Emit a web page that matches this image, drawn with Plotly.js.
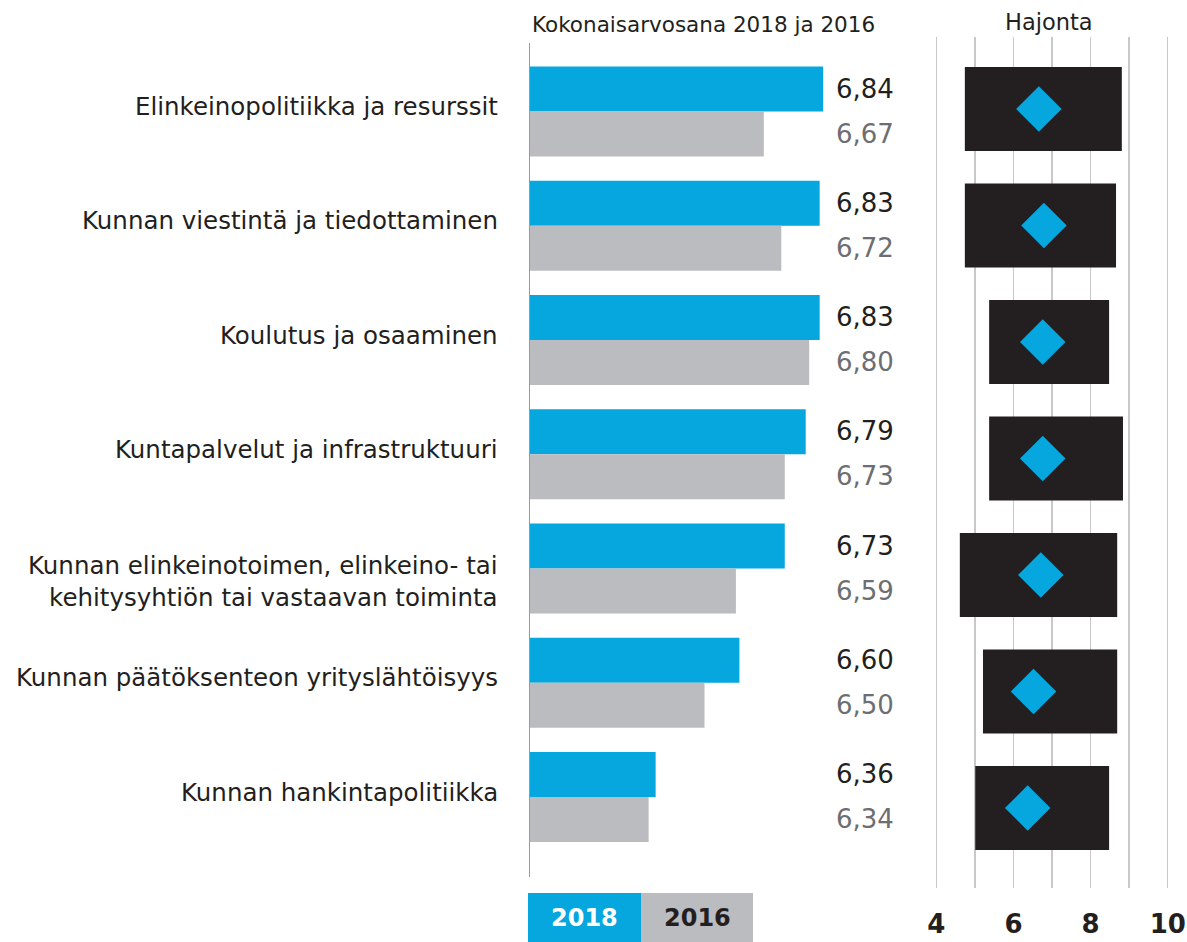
<!DOCTYPE html>
<html>
<head>
<meta charset="utf-8">
<script src="https://cdn.plot.ly/plotly-3.0.1.min.js"></script>
<style>
  html, body { margin: 0; padding: 0; background: #ffffff; }
  #chart { width: 1187px; height: 942px; }
</style>
</head>
<body>
<div id="chart"></div>
<script>
// ---- Data ----
const categories = [
  "Elinkeinopolitiikka ja resurssit",
  "Kunnan viestintä ja tiedottaminen",
  "Koulutus ja osaaminen",
  "Kuntapalvelut ja infrastruktuuri",
  "Kunnan elinkeinotoimen, elinkeino- tai<br>kehitysyhtiön tai vastaavan toiminta",
  "Kunnan päätöksenteon yrityslähtöisyys",
  "Kunnan hankintapolitiikka"
];
const values2018 = [6.84, 6.83, 6.83, 6.79, 6.73, 6.60, 6.36];
const values2016 = [6.67, 6.72, 6.80, 6.73, 6.59, 6.50, 6.34];
const spreadLow  = [4.74, 4.74, 5.37, 5.37, 4.61, 5.21, 5.01];
const spreadHigh = [8.81, 8.66, 8.48, 8.84, 8.69, 8.69, 8.48];
const spreadMean = [6.66, 6.79, 6.76, 6.76, 6.71, 6.52, 6.37];
const seriesNames = ["2018", "2016"];
const spreadTicks = [4, 5, 6, 7, 8, 9, 10];
const spreadTickText = ["4", "", "6", "", "8", "", "10"];

// ---- Style ----
const W = 1187, H = 942;
const BLUE = "#06a6de", GREY = "#bbbcc0", DARK = "#231f20", MIDGREY = "#6d6e71";
const FONT = "'DejaVu Sans', 'Open Sans', sans-serif";
const fx = px => px / W;
const fy = py => 1 - py / H;
const fmt = v => v.toFixed(2).replace(".", ",");
const diff = spreadHigh.map((h, i) => h - spreadLow[i]);

const traces = [
  {
    type: "bar", orientation: "h", name: seriesNames[0],
    y: categories, x: values2018,
    marker: { color: BLUE }, xaxis: "x", yaxis: "y", hoverinfo: "skip"
  },
  {
    type: "bar", orientation: "h", name: seriesNames[1],
    y: categories, x: values2016,
    marker: { color: GREY }, xaxis: "x", yaxis: "y", hoverinfo: "skip"
  },
  {
    type: "bar", orientation: "h", name: "Hajonta",
    y: categories, x: diff, base: spreadLow, width: 0.72,
    marker: { color: DARK }, xaxis: "x2", yaxis: "y2", hoverinfo: "skip"
  },
  {
    type: "scatter", mode: "markers", name: "Keskiarvo",
    y: categories, x: spreadMean,
    marker: { symbol: "diamond", size: 35, color: BLUE, line: { width: 0 } },
    xaxis: "x2", yaxis: "y2", hoverinfo: "skip"
  }
];

const annotations = [];
categories.forEach((c, i) => {
  const multiLine = c.indexOf("<br>") >= 0;
  annotations.push({
    xref: "paper", yref: "y", x: fx(500), y: c, yshift: multiLine ? -13 : 5,
    text: c, showarrow: false, xanchor: "right", yanchor: "middle", align: "right",
    font: { family: FONT, size: 24.5, color: DARK }
  });
  annotations.push({
    xref: "paper", yref: "y", x: fx(865), y: c, yshift: 23,
    text: fmt(values2018[i]), showarrow: false, xanchor: "center", yanchor: "middle",
    font: { family: FONT, size: 26, color: DARK }
  });
  annotations.push({
    xref: "paper", yref: "y", x: fx(865), y: c, yshift: -22,
    text: fmt(values2016[i]), showarrow: false, xanchor: "center", yanchor: "middle",
    font: { family: FONT, size: 26, color: MIDGREY }
  });
});
annotations.push({
  xref: "paper", yref: "paper", x: fx(530), y: fy(25), xanchor: "left", yanchor: "middle",
  text: "Kokonaisarvosana 2018 ja 2016", showarrow: false,
  font: { family: FONT, size: 21.5, color: DARK }
});
annotations.push({
  xref: "paper", yref: "paper", x: fx(1049), y: fy(22), xanchor: "center", yanchor: "middle",
  text: "Hajonta", showarrow: false,
  font: { family: FONT, size: 22.5, color: DARK }
});
annotations.push({
  xref: "paper", yref: "paper", x: fx(584.5), y: fy(918), xanchor: "center", yanchor: "middle",
  text: "<b>" + seriesNames[0] + "</b>", showarrow: false,
  font: { family: FONT, size: 24, color: "#ffffff" }
});
annotations.push({
  xref: "paper", yref: "paper", x: fx(697), y: fy(918), xanchor: "center", yanchor: "middle",
  text: "<b>" + seriesNames[1] + "</b>", showarrow: false,
  font: { family: FONT, size: 24, color: DARK }
});

const shapes = [
  { type: "rect", xref: "paper", yref: "paper", x0: fx(528), x1: fx(641), y0: fy(942), y1: fy(893),
    fillcolor: BLUE, line: { width: 0 }, layer: "below" },
  { type: "rect", xref: "paper", yref: "paper", x0: fx(641), x1: fx(753), y0: fy(942), y1: fy(893),
    fillcolor: GREY, line: { width: 0 }, layer: "below" }
];

// left panel: 6.0 at px 530, 349 px per unit
const leftX0 = 530, leftX1 = 880, pxPerUnit = 349;
// right panel: 4 at px 936.3, 38.57 px per unit
const r0 = 936.3, rUnit = 38.57;

const layout = {
  width: W, height: H,
  margin: { l: 0, r: 0, t: 0, b: 0 },
  paper_bgcolor: "#ffffff", plot_bgcolor: "rgba(0,0,0,0)",
  showlegend: false,
  barmode: "group", bargap: 0.212, bargroupgap: 0,
  font: { family: FONT, color: DARK },
  xaxis: {
    domain: [fx(leftX0), fx(leftX1)],
    range: [6, 6 + (leftX1 - leftX0) / pxPerUnit],
    showgrid: false, zeroline: false, showticklabels: false, showline: false, ticks: "",
    anchor: "y", fixedrange: true
  },
  yaxis: {
    domain: [fy(877), fy(43)],
    type: "category",
    range: [6.7, -0.6],
    showgrid: false, zeroline: false,
    showline: true, linecolor: "#9a9a9a", linewidth: 1.5,
    ticks: "", showticklabels: false,
    anchor: "x", fixedrange: true
  },
  xaxis2: {
    domain: [fx(r0 - 0.1 * rUnit), fx(r0 + 6.1 * rUnit)],
    range: [3.9, 10.1],
    tickvals: spreadTicks, ticktext: spreadTickText,
    showgrid: true, gridcolor: "#c8c8c8", gridwidth: 1.5,
    zeroline: false, showline: false,
    ticks: "outside", ticklen: 13, tickcolor: "rgba(0,0,0,0)",
    tickfont: { family: FONT, size: 26, color: DARK, weight: "bold" },
    anchor: "y2", fixedrange: true
  },
  yaxis2: {
    domain: [fy(888), fy(37)],
    type: "category",
    range: [6.687, -0.618],
    showgrid: false, zeroline: false, showline: false, showticklabels: false, ticks: "",
    anchor: "x2", fixedrange: true
  },
  annotations: annotations,
  shapes: shapes
};

Plotly.newPlot("chart", traces, layout, { staticPlot: true, displayModeBar: false });
</script>
</body>
</html>
